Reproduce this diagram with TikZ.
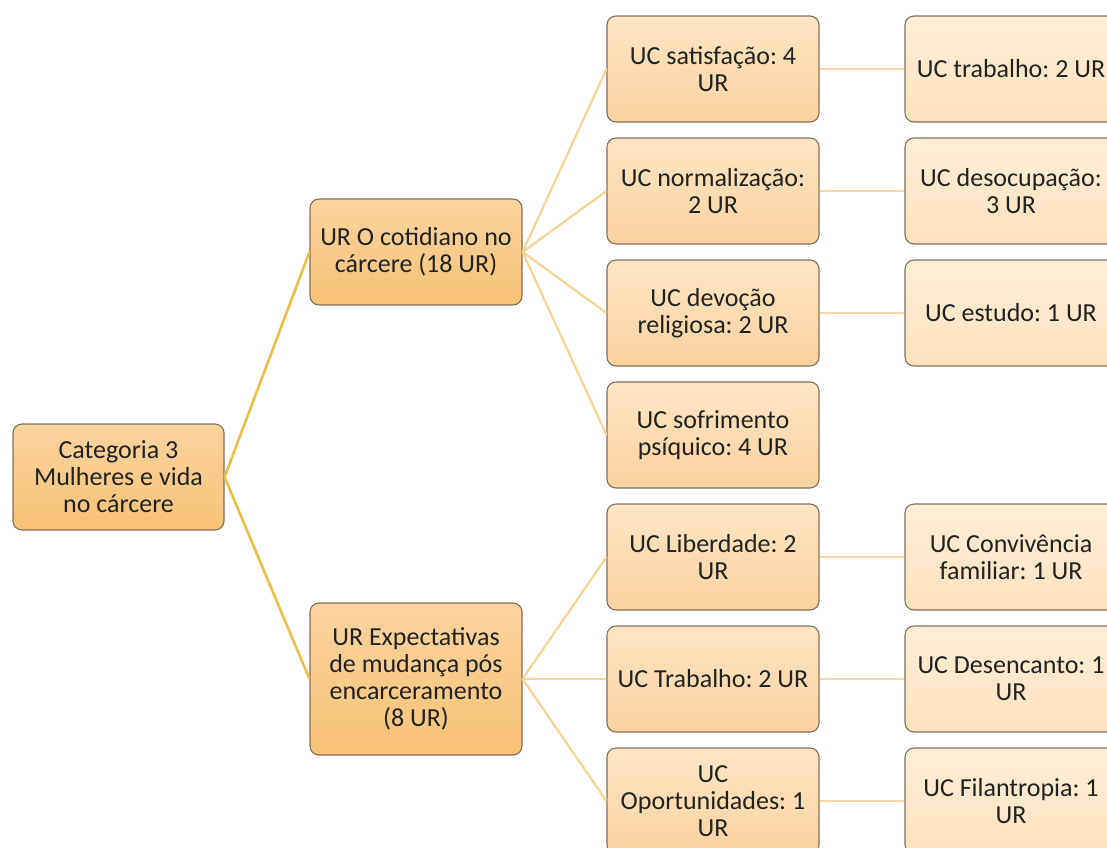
\documentclass[tikz,border=0pt]{standalone}
\usepackage{fontspec}
\setmainfont{Carlito}
\frenchspacing
\definecolor{boxline}{HTML}{7E6F5E}
\definecolor{txt}{HTML}{222222}
\definecolor{topA}{HTML}{FBD49E}
\definecolor{botA}{HTML}{F7C275}
\definecolor{topB}{HTML}{FDE5C4}
\definecolor{botB}{HTML}{FAD39E}
\definecolor{topC}{HTML}{FEEDD7}
\definecolor{botC}{HTML}{FCE2BF}
\definecolor{linkA}{HTML}{EAC04A}
\definecolor{linkB}{HTML}{F5D596}
\definecolor{linkC}{HTML}{F3D9AA}
\tikzset{
  card/.style={draw=boxline, line width=1.1pt, rounded corners=9pt,
    minimum width=212pt, minimum height=106pt, inner sep=0pt,
    align=center, text=txt, font=\fontsize{26}{27}\selectfont},
  mainbox/.style={card, top color=topA, bottom color=botA},
  midbox/.style={card, top color=topB, bottom color=botB},
  leafbox/.style={card, top color=topC, bottom color=botC},
  linkmain/.style={draw=linkA, line width=2.6pt},
  linkmid/.style={draw=linkB, line width=2.2pt},
  linkleaf/.style={draw=linkC, line width=2.2pt}
}
\begin{document}
\begin{tikzpicture}[x=1pt,y=-1pt]
  \fill[white] (0,0) rectangle (1107,847);
  \clip (0,0) rectangle (1107,847);

  % root and the two registration units
  \node[mainbox, minimum width=211pt] (root) at (118.5,477) {Categoria 3\\Mulheres e vida\\no cárcere};
  \node[mainbox] (ur1) at (416,252) {UR O cotidiano no\\cárcere (18 UR)};
  \node[mainbox, minimum height=152pt] (ur2) at (416,679) {UR Expectativas\\de mudança pós\\encarceramento\\(8 UR)};

  % context units
  \node[midbox] (m1) at (713,69)  {UC satisfação: 4\\UR};
  \node[midbox] (m2) at (713,191) {UC normalização:\\2 UR};
  \node[midbox] (m3) at (713,313) {UC devoção\\religiosa: 2 UR};
  \node[midbox] (m4) at (713,435) {UC sofrimento\\psíquico: 4 UR};
  \node[midbox] (m5) at (713,557) {UC Liberdade: 2\\UR};
  \node[midbox] (m6) at (713,679) {UC Trabalho: 2 UR};
  \node[midbox] (m7) at (713,801) {UC\\Oportunidades: 1\\UR};

  % leaf units
  \node[leafbox] (l1) at (1011,69)  {UC trabalho: 2 UR};
  \node[leafbox] (l2) at (1011,191) {UC desocupação:\\3 UR};
  \node[leafbox] (l3) at (1011,313) {UC estudo: 1 UR};
  \node[leafbox] (l5) at (1011,557) {UC Convivência\\familiar: 1 UR};
  \node[leafbox] (l6) at (1011,679) {UC Desencanto: 1\\UR};
  \node[leafbox] (l7) at (1011,801) {UC Filantropia: 1\\UR};

  % connectors
  \draw[linkmain] (root.east) -- (ur1.west);
  \draw[linkmain] (root.east) -- (ur2.west);
  \foreach \m in {m1,m2,m3,m4}
    \draw[linkmid] (ur1.east) -- (\m.west);
  \foreach \m in {m5,m6,m7}
    \draw[linkmid] (ur2.east) -- (\m.west);
  \foreach \a/\b in {m1/l1,m2/l2,m3/l3,m5/l5,m6/l6,m7/l7}
    \draw[linkleaf] (\a.east) -- (\b.west);
\end{tikzpicture}
\end{document}
